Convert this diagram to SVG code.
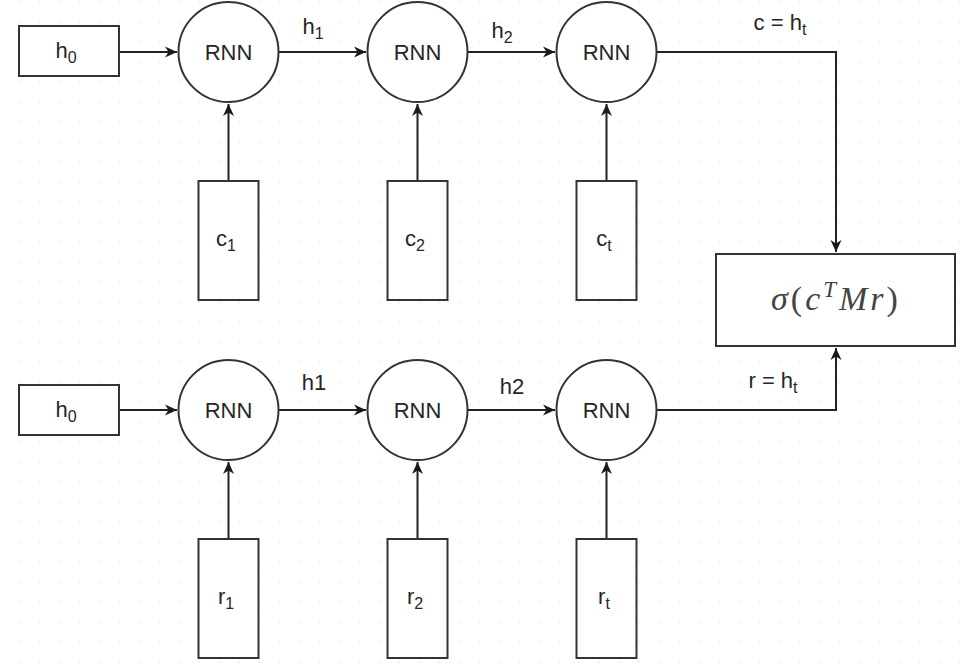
<svg xmlns="http://www.w3.org/2000/svg" width="964" height="670" viewBox="0 0 964 670">
<defs>
<pattern id="grid" x="18" y="1" width="20" height="20" patternUnits="userSpaceOnUse">
<rect x="0.3" y="0.3" width="1.4" height="1.4" fill="#e2e2e2"/>
</pattern>
<marker id="arr" viewBox="0 0 13 13" refX="12" refY="6.5" markerWidth="13" markerHeight="13" markerUnits="userSpaceOnUse" orient="auto">
<path d="M0,1 L12,6.5 L0,12 L3.5,6.5 Z" fill="#1a1a1a"/>
</marker>
</defs>
<style>
.n{fill:#fff;stroke:#333;stroke-width:2}
.t{font-family:"Liberation Sans",Arial,sans-serif;font-size:22px;fill:#262626;text-anchor:middle}
.s{font-size:16px}
.c{fill:none;stroke:#222;stroke-width:2}
.m{font-family:"Liberation Serif","Times New Roman",serif;font-size:34px;fill:#444}
</style>
<rect width="964" height="670" fill="#fff"/>
<rect width="964" height="670" fill="url(#grid)"/>
<g id="connectors">
<line class="c" x1="119" y1="52" x2="177" y2="52" marker-end="url(#arr)"/>
<line class="c" x1="278" y1="52" x2="366" y2="52" marker-end="url(#arr)"/>
<line class="c" x1="467" y1="52" x2="555" y2="52" marker-end="url(#arr)"/>
<polyline class="c" points="656,52 836,52 836,252" marker-end="url(#arr)"/>
<line class="c" x1="228.5" y1="181" x2="228.5" y2="104" marker-end="url(#arr)"/>
<line class="c" x1="417.5" y1="181" x2="417.5" y2="104" marker-end="url(#arr)"/>
<line class="c" x1="606.5" y1="181" x2="606.5" y2="104" marker-end="url(#arr)"/>
<line class="c" x1="119" y1="410" x2="177" y2="410" marker-end="url(#arr)"/>
<line class="c" x1="278" y1="410" x2="366" y2="410" marker-end="url(#arr)"/>
<line class="c" x1="467" y1="410" x2="555" y2="410" marker-end="url(#arr)"/>
<polyline class="c" points="656,410 836,410 836,348" marker-end="url(#arr)"/>
<line class="c" x1="228.5" y1="539" x2="228.5" y2="462" marker-end="url(#arr)"/>
<line class="c" x1="417.5" y1="539" x2="417.5" y2="462" marker-end="url(#arr)"/>
<line class="c" x1="606.5" y1="539" x2="606.5" y2="462" marker-end="url(#arr)"/>
<text class="t" x="313" y="34">h<tspan class="s" dy="5">1</tspan></text>
<text class="t" x="502" y="38">h<tspan class="s" dy="5">2</tspan></text>
<text class="t" x="780" y="30">c = h<tspan class="s" dy="5">t</tspan></text>
<text class="t" x="314" y="390">h1</text>
<text class="t" x="512" y="394">h2</text>
<text class="t" x="773" y="388">r = h<tspan class="s" dy="5">t</tspan></text>
</g>
<g id="h0_top"><rect class="n" x="19" y="26" width="100" height="50"/><text class="t" x="66" y="58">h<tspan class="s" dy="5">0</tspan></text></g>
<g id="rnn_c1"><circle class="n" cx="228.5" cy="52" r="50"/><text class="t" x="228.5" y="60">RNN</text></g>
<g id="rnn_c2"><circle class="n" cx="417.5" cy="52" r="50"/><text class="t" x="417.5" y="60">RNN</text></g>
<g id="rnn_ct"><circle class="n" cx="606.5" cy="52" r="50"/><text class="t" x="606.5" y="60">RNN</text></g>
<g id="c1"><rect class="n" x="198.5" y="181" width="60" height="119"/><text class="t" x="226" y="246">c<tspan class="s" dy="5">1</tspan></text></g>
<g id="c2"><rect class="n" x="387.5" y="181" width="60" height="119"/><text class="t" x="415" y="246">c<tspan class="s" dy="5">2</tspan></text></g>
<g id="ct"><rect class="n" x="576.5" y="181" width="60" height="119"/><text class="t" x="604" y="246">c<tspan class="s" dy="5">t</tspan></text></g>
<g id="score"><rect class="n" x="716" y="254" width="239" height="92"/><text class="m" x="836" y="310" text-anchor="middle" letter-spacing="3"><tspan font-style="italic">σ</tspan>(<tspan font-style="italic">c</tspan><tspan font-size="23" font-style="italic" dy="-13">T</tspan><tspan font-style="italic" dy="13">Mr</tspan>)</text></g>
<g id="h0_bottom"><rect class="n" x="19" y="385" width="100" height="50"/><text class="t" x="66" y="417">h<tspan class="s" dy="5">0</tspan></text></g>
<g id="rnn_r1"><circle class="n" cx="228.5" cy="410" r="50"/><text class="t" x="228.5" y="418">RNN</text></g>
<g id="rnn_r2"><circle class="n" cx="417.5" cy="410" r="50"/><text class="t" x="417.5" y="418">RNN</text></g>
<g id="rnn_rt"><circle class="n" cx="606.5" cy="410" r="50"/><text class="t" x="606.5" y="418">RNN</text></g>
<g id="r1"><rect class="n" x="198.5" y="539" width="60" height="119"/><text class="t" x="226" y="604">r<tspan class="s" dy="5">1</tspan></text></g>
<g id="r2"><rect class="n" x="387.5" y="539" width="60" height="119"/><text class="t" x="415" y="604">r<tspan class="s" dy="5">2</tspan></text></g>
<g id="rt"><rect class="n" x="576.5" y="539" width="60" height="119"/><text class="t" x="604" y="604">r<tspan class="s" dy="5">t</tspan></text></g>
</svg>
